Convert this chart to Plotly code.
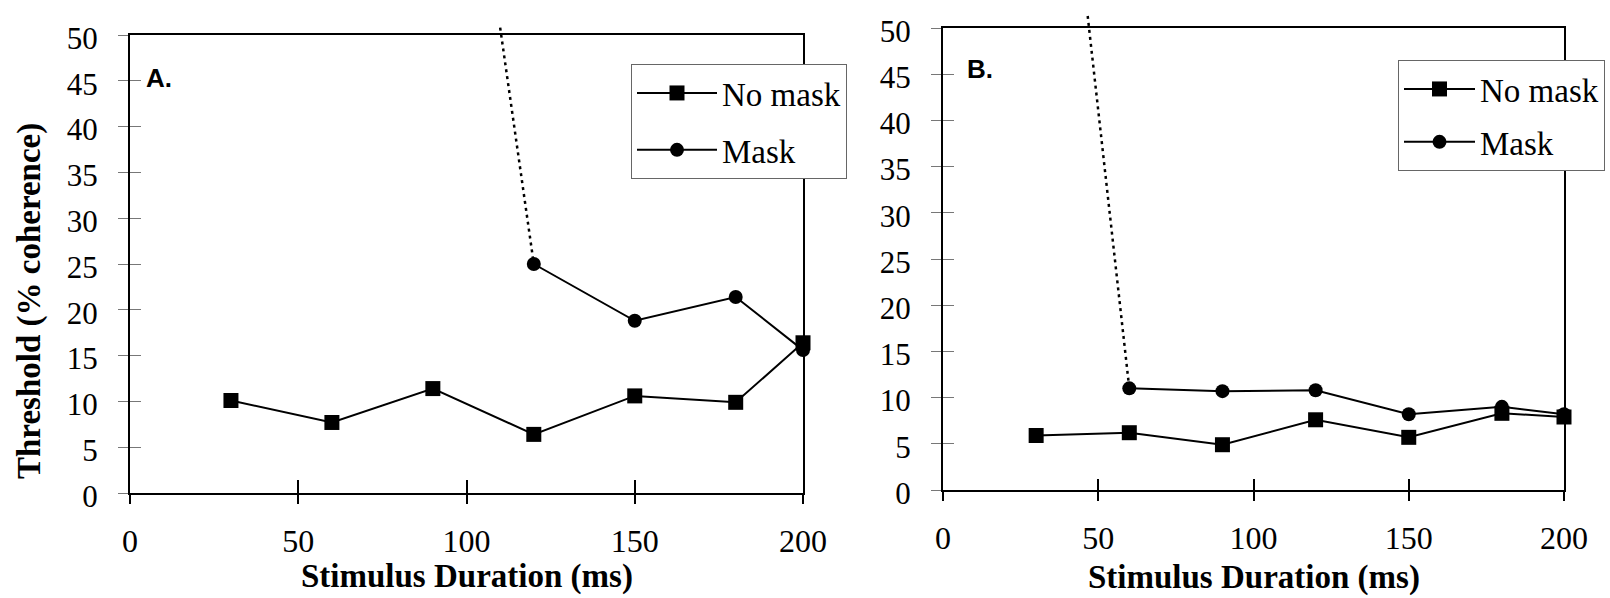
import plotly.graph_objects as go

# ---- Panel A ----
durations_a = [30, 60, 90, 120, 150, 180, 200]
no_mask_a = [10.1, 7.7, 11.4, 6.4, 10.6, 9.9, 16.4]
mask_dur_a = [120, 150, 180, 200]
mask_a = [25.0, 18.8, 21.4, 15.6]
# extrapolated mask threshold (dotted) above the axis maximum
mask_lead_dur_a = [110, 120]
mask_lead_a = [50.8, 25.0]

# ---- Panel B ----
durations_b = [30, 60, 90, 120, 150, 180, 200]
no_mask_b = [5.9, 6.2, 4.9, 7.6, 5.7, 8.3, 7.9]
mask_dur_b = [60, 90, 120, 150, 180, 200]
mask_b = [11.0, 10.7, 10.8, 8.2, 9.0, 8.2]
mask_lead_dur_b = [46.6, 60]
mask_lead_b = [51.3, 11.0]

x_ticks = [0, 50, 100, 150, 200]
y_ticks = list(range(0, 51, 5))
x_range = [0, 200]
y_range = [0, 50]

W, H = 1610, 598
SERIF = "Liberation Serif"
SANS = "Liberation Sans"


def px(x):
    return x / W


def py(y):
    return 1 - y / H


# plot-area placement (paper fractions)
ax_a = [px(130), px(803)]
ay_a = [py(493), py(35)]
ax_b = [px(943), px(1564)]
ay_b = [py(490), py(28)]


def ext_top(ydom):
    # range top for an invisible axis stretched to the top of the page,
    # keeping the same data-to-pixel scale as the visible axis
    return y_range[1] * (1 - ydom[0]) / (ydom[1] - ydom[0])


line_style = dict(color="black", width=2)
sq = dict(symbol="square", size=15, color="black")
ci = dict(symbol="circle", size=14, color="black")
dotted = dict(color="black", width=2.5, dash="3px,4px")

fig = go.Figure()

# Panel A traces
fig.add_trace(go.Scatter(x=durations_a, y=no_mask_a, mode="lines+markers", name="No mask",
                         line=line_style, marker=sq, cliponaxis=False,
                         xaxis="x", yaxis="y", legend="legend", legendgroup="a1"))
fig.add_trace(go.Scatter(x=mask_dur_a, y=mask_a, mode="lines+markers", name="Mask",
                         line=line_style, marker=ci, cliponaxis=False,
                         xaxis="x", yaxis="y", legend="legend", legendgroup="a2"))
fig.add_trace(go.Scatter(x=mask_lead_dur_a, y=mask_lead_a, mode="lines", line=dotted,
                         xaxis="x3", yaxis="y3", showlegend=False, hoverinfo="skip"))

# Panel B traces
fig.add_trace(go.Scatter(x=durations_b, y=no_mask_b, mode="lines+markers", name="No mask",
                         line=line_style, marker=sq, cliponaxis=False,
                         xaxis="x2", yaxis="y2", legend="legend2", legendgroup="b1"))
fig.add_trace(go.Scatter(x=mask_dur_b, y=mask_b, mode="lines+markers", name="Mask",
                         line=line_style, marker=ci, cliponaxis=False,
                         xaxis="x2", yaxis="y2", legend="legend2", legendgroup="b2"))
fig.add_trace(go.Scatter(x=mask_lead_dur_b, y=mask_lead_b, mode="lines", line=dotted,
                         xaxis="x4", yaxis="y4", showlegend=False, hoverinfo="skip"))

# empty traces that instantiate the overlay axes carrying the inner tick halves
fig.add_trace(go.Scatter(x=[], y=[], xaxis="x5", yaxis="y5", showlegend=False, hoverinfo="skip"))
fig.add_trace(go.Scatter(x=[], y=[], xaxis="x6", yaxis="y6", showlegend=False, hoverinfo="skip"))


def main_x(dom, anchor):
    return dict(domain=dom, anchor=anchor, range=x_range, tickvals=x_ticks,
                ticks="outside", ticklen=9, tickwidth=1.5, tickcolor="black",
                showline=True, linewidth=2, linecolor="black", mirror=True,
                showgrid=False, zeroline=False, ticklabelstandoff=10,
                tickfont=dict(family=SERIF, size=32, color="black"))


def main_y(dom, anchor):
    return dict(domain=dom, anchor=anchor, range=y_range, tickvals=y_ticks,
                ticks="outside", ticklen=10, tickwidth=1, tickcolor="#777",
                showline=True, linewidth=2, linecolor="black", mirror=True,
                showgrid=False, zeroline=False, ticklabelstandoff=14, ticklabelshift=3,
                tickfont=dict(family=SERIF, size=31, color="black"))


def inner_x(over, anchor, ln):
    return dict(overlaying=over, anchor=anchor, range=x_range, tickvals=x_ticks,
                ticks="inside", ticklen=ln, tickwidth=1.5, tickcolor="black",
                showticklabels=False, showline=False, showgrid=False, zeroline=False)


def inner_y(over, anchor, ln):
    return dict(overlaying=over, anchor=anchor, range=y_range, tickvals=y_ticks,
                ticks="inside", ticklen=ln, tickwidth=1, tickcolor="#777",
                showticklabels=False, showline=False, showgrid=False, zeroline=False)


legend_common = dict(
    xanchor="left", yanchor="top", bgcolor="white", bordercolor="#666", borderwidth=1,
    font=dict(family=SERIF, size=33, color="black"), traceorder="grouped",
)

fig.update_layout(
    width=W, height=H,
    margin=dict(l=0, r=0, t=0, b=0, autoexpand=False),
    paper_bgcolor="white", plot_bgcolor="rgba(0,0,0,0)",
    xaxis=main_x(ax_a, "y"),
    yaxis=main_y(ay_a, "x"),
    xaxis2=main_x(ax_b, "y2"),
    yaxis2=main_y(ay_b, "x2"),
    xaxis3=dict(domain=ax_a, anchor="y3", range=x_range, visible=False),
    yaxis3=dict(domain=[ay_a[0], 1], anchor="x3", range=[0, ext_top(ay_a)], visible=False),
    xaxis4=dict(domain=ax_b, anchor="y4", range=x_range, visible=False),
    yaxis4=dict(domain=[ay_b[0], 1], anchor="x4", range=[0, ext_top(ay_b)], visible=False),
    xaxis5=inner_x("x", "y", 13),
    yaxis5=inner_y("y", "x", 11),
    xaxis6=inner_x("x2", "y2", 11),
    yaxis6=inner_y("y2", "x2", 11),
    legend=dict(x=px(631), y=py(64), itemwidth=80, tracegroupgap=11, **legend_common),
    legend2=dict(x=px(1398), y=py(60), itemwidth=71, tracegroupgap=7, **legend_common),
    showlegend=True,
    annotations=[
        dict(text="A.", x=px(144), y=py(78), xref="paper", yref="paper",
             xanchor="left", yanchor="middle", showarrow=False,
             font=dict(family=SANS, size=26, color="black", weight="bold")),
        dict(text="B.", x=px(965), y=py(69), xref="paper", yref="paper",
             xanchor="left", yanchor="middle", showarrow=False,
             font=dict(family=SANS, size=26, color="black", weight="bold")),
        dict(text="Threshold (% coherence)", x=px(29), y=py(301), xref="paper", yref="paper",
             xanchor="center", yanchor="middle", textangle=-90, showarrow=False,
             font=dict(family=SERIF, size=33, color="black", weight="bold")),
        dict(text="Stimulus Duration (ms)", x=sum(ax_a) / 2, y=py(576), xref="paper", yref="paper",
             xanchor="center", yanchor="middle", showarrow=False,
             font=dict(family=SERIF, size=33, color="black", weight="bold")),
        dict(text="Stimulus Duration (ms)", x=sum(ax_b) / 2, y=py(577), xref="paper", yref="paper",
             xanchor="center", yanchor="middle", showarrow=False,
             font=dict(family=SERIF, size=33, color="black", weight="bold")),
    ],
)

fig.write_html("out.html")
